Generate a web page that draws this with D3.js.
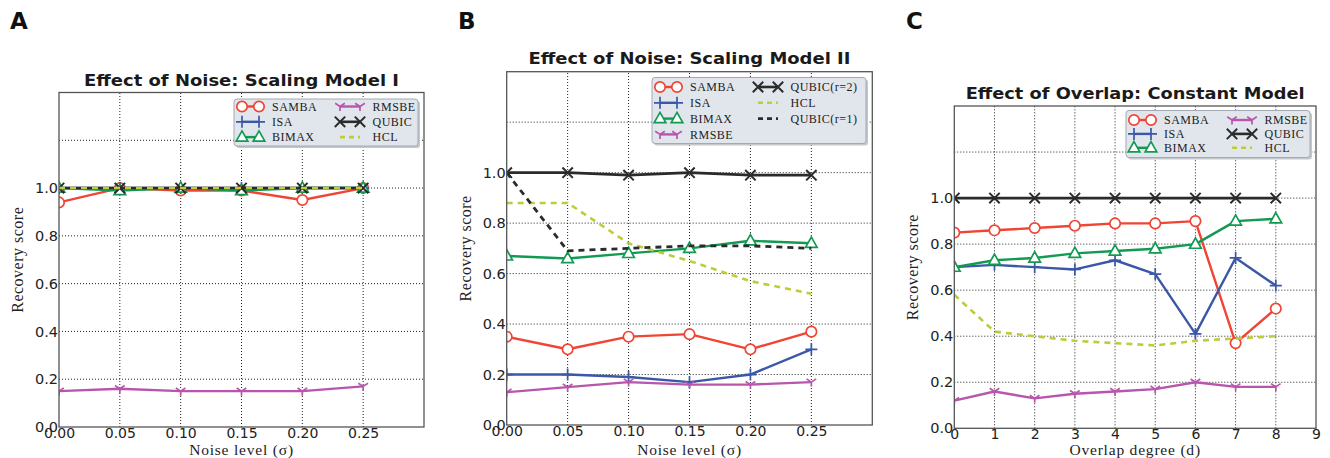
<!DOCTYPE html>
<html><head><meta charset="utf-8">
<script src="https://cdn.jsdelivr.net/npm/d3@7"></script>
<style>body{margin:0;background:#fff}svg{display:block}</style>
</head><body><svg id="c" width="1330" height="458"></svg>
<script>
// ---------- data ----------
const xNoise = [0, 0.05, 0.10, 0.15, 0.20, 0.25];
const xOverlap = [0, 1, 2, 3, 4, 5, 6, 7, 8];
const noiseTicks = [0, 0.05, 0.10, 0.15, 0.20, 0.25];
const overlapTicks = [0, 1, 2, 3, 4, 5, 6, 7, 8, 9];
const yTickVals = [0, 0.2, 0.4, 0.6, 0.8, 1.0];
const yGridVals = [0.2, 0.4, 0.6, 0.8, 1.0, 1.2];

// Panel A: Effect of Noise: Scaling Model I
const aSAMBA = [0.94, 1.00, 0.99, 0.99, 0.95, 1.00];
const aISA   = [1.00, 1.00, 1.00, 1.00, 1.00, 1.00];
const aBIMAX = [1.00, 0.99, 1.00, 0.99, 1.00, 1.00];
const aRMSBE = [0.15, 0.16, 0.15, 0.15, 0.15, 0.17];
const aQUBIC = [1.00, 1.00, 1.00, 1.00, 1.00, 1.00];
const aHCL   = [1.00, 1.00, 1.00, 1.00, 1.00, 1.00];

// Panel B: Effect of Noise: Scaling Model II
const bSAMBA  = [0.35, 0.30, 0.35, 0.36, 0.30, 0.37];
const bISA    = [0.20, 0.20, 0.19, 0.17, 0.20, 0.30];
const bBIMAX  = [0.67, 0.66, 0.68, 0.70, 0.73, 0.72];
const bRMSBE  = [0.13, 0.15, 0.17, 0.16, 0.16, 0.17];
const bQUBIC2 = [1.00, 1.00, 0.99, 1.00, 0.99, 0.99];
const bHCL    = [0.88, 0.88, 0.72, 0.65, 0.57, 0.52];
const bQUBIC1 = [1.00, 0.69, 0.70, 0.71, 0.71, 0.70];

// Panel C: Effect of Overlap: Constant Model
const cSAMBA = [0.85, 0.86, 0.87, 0.88, 0.89, 0.89, 0.90, 0.37, 0.52];
const cISA   = [0.70, 0.71, 0.70, 0.69, 0.73, 0.67, 0.41, 0.74, 0.62];
const cBIMAX = [0.70, 0.73, 0.74, 0.76, 0.77, 0.78, 0.80, 0.90, 0.91];
const cRMSBE = [0.12, 0.16, 0.13, 0.15, 0.16, 0.17, 0.20, 0.18, 0.18];
const cQUBIC = [1.00, 1.00, 1.00, 1.00, 1.00, 1.00, 1.00, 1.00, 1.00];
const cHCL   = [0.58, 0.42, 0.40, 0.38, 0.37, 0.36, 0.38, 0.39, 0.40];

// ---------- styles ----------
const STY = {
  SAMBA: {color: "#f04534", marker: "circle", dash: null, w: 2.4},
  ISA:   {color: "#3b58a8", marker: "plus", dash: null, w: 2.4},
  BIMAX: {color: "#139a52", marker: "tri", dash: null, w: 2.4},
  RMSBE: {color: "#b855ad", marker: "tridown", dash: null, w: 2.4},
  QUBIC: {color: "#2b2b2b", marker: "x", dash: null, w: 2.6},
  HCL:   {color: "#bfcc3a", marker: null, dash: "6,5", w: 2.6},
  QUBIC1:{color: "#2b2b2b", marker: null, dash: "6,5", w: 2.8}
};

const panels = [
  {letter: "A", lx: 10, title: "Effect of Noise: Scaling Model I", titleY: 86, titleLen: 315,
   xDom: [0, 0.30], xr: [59, 424], yr: [427, 92.5], xs: xNoise, xTicks: noiseTicks, xFmt: d3.format(".2f"),
   xLabel: "Noise level (σ)", 
   series: [["SAMBA", aSAMBA, "SAMBA"], ["ISA", aISA, "ISA"], ["BIMAX", aBIMAX, "BIMAX"], ["RMSBE", aRMSBE, "RMSBE"], ["QUBIC", aQUBIC, "QUBIC"], ["HCL", aHCL, "HCL"]],
   legend: {x: 234, y: 99, w: 184, h: 47, r0: 106.5, dy: 15.3, cols: [["SAMBA", "ISA", "BIMAX"], ["RMSBE", "QUBIC", "HCL"]]}},
  {letter: "B", lx: 458, title: "Effect of Noise: Scaling Model II", titleY: 64, titleLen: 322,
   xDom: [0, 0.30], xr: [506.7, 872.3], yr: [425, 71.7], xs: xNoise, xTicks: noiseTicks, xFmt: d3.format(".2f"),
   xLabel: "Noise level (σ)",
   series: [["SAMBA", bSAMBA, "SAMBA"], ["ISA", bISA, "ISA"], ["BIMAX", bBIMAX, "BIMAX"], ["RMSBE", bRMSBE, "RMSBE"], ["QUBIC", bQUBIC2, "QUBIC(r=2)"], ["HCL", bHCL, "HCL"], ["QUBIC1", bQUBIC1, "QUBIC(r=1)"]],
   legend: {x: 652, y: 77.5, w: 214, h: 66, r0: 87, dy: 15.8, cols: [["SAMBA", "ISA", "BIMAX", "RMSBE"], ["QUBIC(r=2)", "HCL", "QUBIC(r=1)"]]}},
  {letter: "C", lx: 906, title: "Effect of Overlap: Constant Model", titleY: 99, titleLen: 339,
   xDom: [0, 9], xr: [954.3, 1316], yr: [428.3, 106], xs: xOverlap, xTicks: overlapTicks, xFmt: d3.format("d"),
   xLabel: "Overlap degree (d)",
   series: [["SAMBA", cSAMBA, "SAMBA"], ["ISA", cISA, "ISA"], ["BIMAX", cBIMAX, "BIMAX"], ["RMSBE", cRMSBE, "RMSBE"], ["QUBIC", cQUBIC, "QUBIC"], ["HCL", cHCL, "HCL"]],
   legend: {x: 1126, y: 110.5, w: 184, h: 47, r0: 120, dy: 13.9, cols: [["SAMBA", "ISA", "BIMAX"], ["RMSBE", "QUBIC", "HCL"]]}}
];

const svg = d3.select("#c");
const defs = svg.append("defs");

function markerPath(type) {
  switch (type) {
    case "circle": return d3.symbol(d3.symbolCircle, Math.PI * 27)();
    case "plus": return "M-6,0H6M0,-6V6";
    case "x": return "M-5.2,-5.2L5.2,5.2M-5.2,5.2L5.2,-5.2";
    case "tri": return "M0,-6.2L5.8,4.1L-5.8,4.1Z";
    case "tridown": return "M0,0V4.5M0,0L-4.8,-3.2M0,0L4.8,-3.2";
  }
  return null;
}
function drawMarker(g, type, color, x, y) {
  if (!type) return;
  const filled = (type === "circle" || type === "tri");
  g.append("path").attr("d", markerPath(type))
    .attr("transform", `translate(${x},${y})`)
    .attr("fill", filled ? "#fff" : "none")
    .attr("stroke", color).attr("stroke-width", type === "x" ? 2 : 1.7);
}

panels.forEach((p, i) => {
  const x = d3.scaleLinear().domain(p.xDom).range(p.xr);
  const y = d3.scaleLinear().domain([0, 1.4]).range(p.yr);
  const g = svg.append("g");
  const [x0, x1] = p.xr, [yb, yt] = p.yr;

  // panel letter
  svg.append("text").attr("x", p.lx).attr("y", 29).text(p.letter)
    .attr("font-family", "DejaVu Sans, sans-serif").attr("font-weight", "bold").attr("font-size", 23).attr("fill", "#111");

  // title
  g.append("text").attr("x", (x0 + x1) / 2).attr("y", p.titleY).attr("text-anchor", "middle")
    .attr("font-family", "DejaVu Sans, sans-serif").attr("font-weight", "bold").attr("font-size", 16.5)
    .attr("textLength", p.titleLen).attr("lengthAdjust", "spacingAndGlyphs")
    .attr("fill", "#1a1a1a").text(p.title);

  // grid
  g.append("g").selectAll("line").data(yGridVals).join("line")
    .attr("x1", x0).attr("x2", x1).attr("y1", d => y(d)).attr("y2", d => y(d))
    .attr("stroke", "#222").attr("stroke-width", 1).attr("stroke-dasharray", "1,2");
  g.append("g").selectAll("line").data(p.xTicks.filter(d => d > p.xDom[0] && d < p.xDom[1])).join("line")
    .attr("x1", d => x(d)).attr("x2", d => x(d)).attr("y1", yb).attr("y2", yt)
    .attr("stroke", "#222").attr("stroke-width", 1).attr("stroke-dasharray", "1,2");

  // clip
  const cid = "clip" + i;
  defs.append("clipPath").attr("id", cid).append("rect")
    .attr("x", x0).attr("y", yt).attr("width", x1 - x0).attr("height", yb - yt);
  const plot = g.append("g").attr("clip-path", `url(#${cid})`);

  const line = d3.line().x(d => x(d[0])).y(d => y(d[1]));
  p.series.forEach(([key, vals]) => {
    const s = STY[key];
    const pts = p.xs.map((xv, k) => [xv, vals[k]]);
    plot.append("path").attr("d", line(pts)).attr("fill", "none")
      .attr("stroke", s.color).attr("stroke-width", s.w)
      .attr("stroke-dasharray", s.dash).attr("stroke-linejoin", "round");
    pts.forEach(pt => drawMarker(plot, s.marker, s.color, x(pt[0]), y(pt[1])));
  });

  // frame
  g.append("rect").attr("x", x0).attr("y", yt).attr("width", x1 - x0).attr("height", yb - yt)
    .attr("fill", "none").attr("stroke", "#555").attr("stroke-width", 1.3);

  // axes
  const ax = g.append("g").attr("transform", `translate(0,${yb})`)
    .call(d3.axisBottom(x).tickValues(p.xTicks).tickFormat(p.xFmt).tickSize(0).tickPadding(1));
  ax.select(".domain").remove();
  ax.selectAll("text").attr("font-family", "DejaVu Sans, sans-serif").attr("font-size", 14).attr("fill", "#222");
  const ay = g.append("g").attr("transform", `translate(${x0},0)`)
    .call(d3.axisLeft(y).tickValues(yTickVals).tickFormat(d3.format(".1f")).tickSize(0).tickPadding(1));
  ay.select(".domain").remove();
  ay.selectAll("text").attr("font-family", "DejaVu Sans, sans-serif").attr("font-size", 14.5).attr("fill", "#222");

  // axis labels
  g.append("text").attr("x", (x0 + x1) / 2).attr("y", 455).attr("text-anchor", "middle")
    .attr("font-family", "Liberation Serif, serif").attr("font-size", 15.5).attr("letter-spacing", 0.8)
    .attr("fill", "#222").text(p.xLabel);
  g.append("text").attr("transform", `translate(${x0 - 36},${(yb + yt) / 2}) rotate(-90)`)
    .attr("text-anchor", "middle").attr("font-family", "Liberation Serif, serif").attr("font-size", 16)
    .attr("letter-spacing", 0.5).attr("fill", "#222").text("Recovery score");

  // legend
  const L = p.legend;
  const lg = g.append("g");
  lg.append("rect").attr("x", L.x + 2).attr("y", L.y + 2).attr("width", L.w).attr("height", L.h)
    .attr("rx", 3).attr("fill", "#c4c8cd");
  lg.append("rect").attr("x", L.x).attr("y", L.y).attr("width", L.w).attr("height", L.h)
    .attr("rx", 3).attr("fill", "#e1e6ec").attr("stroke", "#a3aab3").attr("stroke-width", 1);
  const labelKey = {};
  p.series.forEach(([key, , label]) => labelKey[label] = key);
  L.cols.forEach((col, ci) => {
    const off = ci === 0 ? [8, 25, 38] : [106, 126, 138.5];
    col.forEach((label, ri) => {
      const s = STY[labelKey[label]];
      const ry = L.r0 + ri * L.dy;
      lg.append("line").attr("x1", L.x + off[0]).attr("x2", L.x + off[1]).attr("y1", ry).attr("y2", ry)
        .attr("stroke", s.color).attr("stroke-width", s.w).attr("stroke-dasharray", s.dash ? "5,4" : null);
      drawMarker(lg, s.marker, s.color, L.x + off[0], ry);
      drawMarker(lg, s.marker, s.color, L.x + off[1], ry);
      lg.append("text").attr("x", L.x + off[2]).attr("y", ry).attr("dy", "0.35em")
        .attr("font-family", "Liberation Serif, serif").attr("font-size", 12).attr("letter-spacing", 0.5)
        .attr("fill", "#222").text(label);
    });
  });
});
</script></body></html>
